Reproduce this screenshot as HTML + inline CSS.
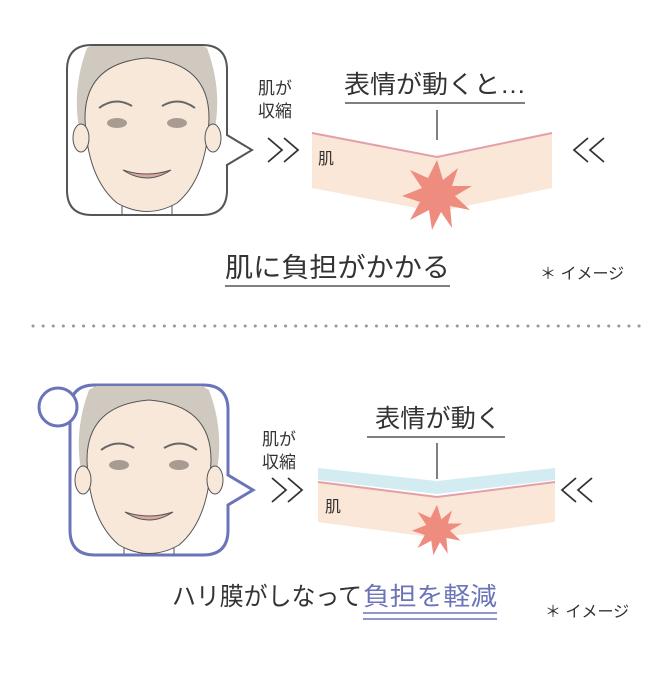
<!DOCTYPE html>
<html><head><meta charset="utf-8"><style>
body{margin:0;background:#fff}
svg text{font-family:"Liberation Sans","Noto Sans CJK JP",sans-serif;fill:#333}
</style></head><body>
<svg width="670" height="670" viewBox="0 0 670 670" xmlns="http://www.w3.org/2000/svg">
<defs>
<g id="face">
 <path d="M-60,-80 Q0,-115 60,-80 Q75,-40 68,0 L-68,0 Q-75,-40 -60,-80Z" fill="#cfc9c0"/>
 <path d="M-25,70 L-25,110 M25,70 L25,110" stroke="#555" stroke-width="1"/>
 <path d="M-62,-10 Q-62,-65 0,-70 Q62,-65 62,-10 Q60,50 30,75 Q0,92 -30,75 Q-60,50 -62,-10Z" fill="#f8e8da" stroke="#555" stroke-width="1"/>
 <ellipse cx="-66" cy="10" rx="8" ry="14" fill="#f8e8da" stroke="#555" stroke-width="1"/>
 <ellipse cx="66" cy="10" rx="8" ry="14" fill="#f8e8da" stroke="#555" stroke-width="1"/>
 <path d="M-48,-20 Q-32,-32 -15,-22 M15,-22 Q32,-32 48,-20" stroke="#666" stroke-width="2" fill="none"/>
 <ellipse cx="-30" cy="-5" rx="10" ry="5" fill="#a89c92"/>
 <ellipse cx="30" cy="-5" rx="10" ry="5" fill="#a89c92"/>
 <path d="M-24,42 Q0,58 24,42 Q0,50 -24,42Z" fill="#d9a8a0" stroke="#555" stroke-width="1"/>
</g>
<polygon id="star" fill="#ef8c80" points="437,160 443,180 458,168 452,186 472,186 455,196 470,210 450,206 452,228 441,212 432,230 429,210 410,220 420,202 402,196 422,188 410,170 428,178"/>
</defs>
<!-- top box -->
<path d="M92,45 H202 Q227,45 227,70 V135 L252,150 L227,165 V190 Q227,215 202,215 H92 Q67,215 67,190 V70 Q67,45 92,45Z" fill="#fff" stroke="#555" stroke-width="2"/>
<clipPath id="c1"><rect x="68" y="46" width="158" height="168" rx="24"/></clipPath>
<g clip-path="url(#c1)"><use href="#face" transform="translate(147,128)"/></g>
<!-- bottom box -->
<path d="M95,385 H203 Q228,385 228,410 V475 L253,490 L228,505 V530 Q228,555 203,555 H95 Q70,555 70,530 V410 Q70,385 95,385Z" fill="#fff" stroke="#6b74b8" stroke-width="3"/>
<clipPath id="c2"><rect x="71" y="386" width="156" height="168" rx="24"/></clipPath>
<g clip-path="url(#c2)"><use href="#face" transform="translate(149,470)"/></g>
<circle cx="58" cy="407" r="19" fill="#fff" stroke="#6b74b8" stroke-width="3"/>

<!-- top -->
<text x="258" y="94" font-size="17">肌が</text>
<text x="258" y="117" font-size="17">収縮</text>
<g fill="none" stroke="#333" stroke-width="1.8">
<polyline points="268,138 282,150 268,162"/><polyline points="284,138 298,150 284,162"/>
<polyline points="588,138 574,150 588,162"/><polyline points="604,138 590,150 604,162"/>
<polyline points="272,478 286,490 272,502"/><polyline points="288,478 302,490 288,502"/>
<polyline points="576,478 562,490 576,502"/><polyline points="592,478 578,490 592,502"/>
</g>
<text x="344" y="93" font-size="25" textLength="182" lengthAdjust="spacingAndGlyphs">表情が動くと…</text>
<line x1="345" y1="103" x2="525" y2="103" stroke="#555" stroke-width="1.5"/>
<line x1="437" y1="110" x2="437" y2="140" stroke="#555" stroke-width="1.5"/>
<polygon points="312,133 437,157 552,133 552,188 437,212 312,188" fill="#fbe7d8"/>
<polyline points="312,133 437,157 552,133" fill="none" stroke="#e3a0a8" stroke-width="2"/>
<text x="318" y="164" font-size="16">肌</text>
<use href="#star"/>
<text x="225" y="277" font-size="27" textLength="225" lengthAdjust="spacingAndGlyphs">肌に負担がかかる</text>
<line x1="225" y1="286" x2="450" y2="286" stroke="#555" stroke-width="1.5"/>
<text x="540" y="279" font-size="16">＊ イメージ</text>
<line x1="33" y1="326" x2="640" y2="326" stroke="#999" stroke-width="3" stroke-dasharray="0.1 10" stroke-linecap="round"/>
<!-- bottom -->
<text x="262" y="445" font-size="17">肌が</text>
<text x="262" y="468" font-size="17">収縮</text>
<text x="375" y="427" font-size="25" textLength="126" lengthAdjust="spacingAndGlyphs">表情が動く</text>
<line x1="367" y1="437" x2="505" y2="437" stroke="#555" stroke-width="1.5"/>
<line x1="437" y1="443" x2="437" y2="479" stroke="#555" stroke-width="1.5"/>
<polygon points="318,482 437,498 555,482 555,522 437,538 318,522" fill="#fbe7d8"/>
<polygon points="318,468 437,481 555,468 555,480 437,494 318,480" fill="#d3ecf2"/>
<polyline points="318,482 437,497 555,482" fill="none" stroke="#e3a0a8" stroke-width="2"/>
<text x="325" y="512" font-size="16">肌</text>
<use href="#star" transform="translate(437,530) scale(0.72) translate(-437,-195)"/>
<text x="172" y="605" font-size="25" textLength="190" lengthAdjust="spacingAndGlyphs">ハリ膜がしなって</text>
<text x="363" y="605" font-size="25" fill="#6b74b8" style="fill:#6b74b8" textLength="134" lengthAdjust="spacingAndGlyphs">負担を軽減</text>
<line x1="363" y1="613" x2="497" y2="613" stroke="#6b74b8" stroke-width="1.5"/>
<line x1="363" y1="619" x2="497" y2="619" stroke="#6b74b8" stroke-width="1.5"/>
<text x="545" y="617" font-size="16">＊ イメージ</text>
</svg>
</body></html>
